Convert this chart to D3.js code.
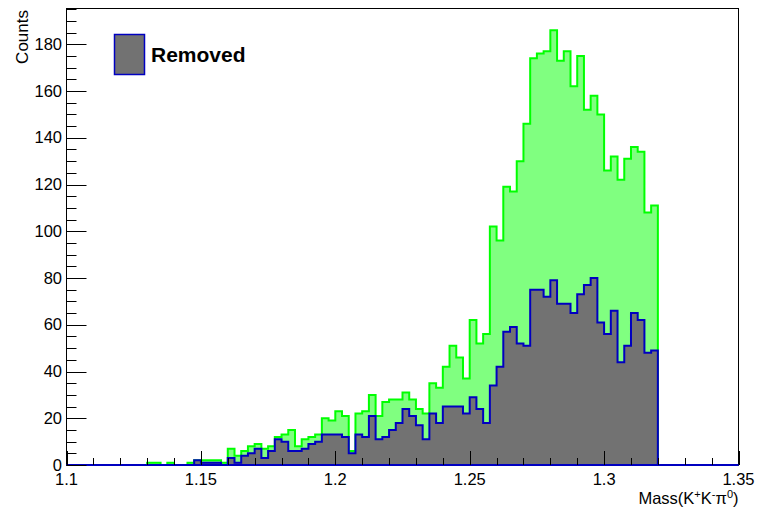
<!DOCTYPE html>
<html>
<head>
<meta charset="utf-8">
<script src="https://cdn.jsdelivr.net/npm/d3@7"></script>
<style>
  body { margin: 0; background: #fff; }
  svg { display: block; }
  text { font-family: "Liberation Sans", Arial, sans-serif; fill: #000; }
</style>
</head>
<body>
<svg id="chart" width="759" height="509"></svg>
<script>
// histogram definition: 100 bins from 1.1 to 1.35
const nBins = 100, xMin = 1.1, xMax = 1.35;

// all candidates (green)
const totalCounts = [
  0, 0, 0, 0, 0, 0, 0, 0, 0, 0,
  0, 0, 1, 1, 0, 1, 0, 0, 1, 2,
  2, 2, 2, 1, 7, 4, 6, 8, 9, 7,
  8, 12, 13, 15, 8, 11, 12, 13, 20, 19,
  23, 21, 6, 22, 23, 30, 21, 27, 28, 28,
  31, 28, 24, 22, 35, 33, 42, 51, 46, 37,
  62, 52, 56, 102, 96, 119, 117, 130, 146, 174,
  176, 177, 186, 173, 177, 162, 175, 152, 158, 150,
  126, 132, 122, 131, 136, 134, 108, 111, 0, 0,
  0, 0, 0, 0, 0, 0, 0, 0, 0, 0
];

// removed candidates (grey)
const removedCounts = [
  0, 0, 0, 0, 0, 0, 0, 0, 0, 0,
  0, 0, 0, 0, 0, 0, 0, 0, 0, 2,
  1, 1, 1, 0, 3, 1, 4, 5, 7, 3,
  6, 11, 10, 6, 6, 7, 9, 10, 13, 13,
  13, 12, 5, 13, 12, 21, 11, 12, 15, 18,
  24, 21, 17, 11, 22, 18, 25, 25, 25, 22,
  29, 24, 18, 34, 42, 57, 59, 52, 51, 75,
  75, 72, 79, 69, 69, 65, 73, 77, 80, 61,
  56, 66, 44, 51, 65, 62, 48, 49, 0, 0,
  0, 0, 0, 0, 0, 0, 0, 0, 0, 0
];

const xTickLabels = [1.1, 1.15, 1.2, 1.25, 1.3, 1.35];
const yTickLabels = [0, 20, 40, 60, 80, 100, 120, 140, 160, 180];
const legendLabel = "Removed";

const svg = d3.select("#chart");
const frame = { left: 66.5, right: 738.5, top: 8.5, bottom: 465 };

const x = d3.scaleLinear().domain([xMin, xMax]).range([frame.left, frame.right]);
const y = d3.scaleLinear().domain([0, 195.3]).range([frame.bottom, frame.top]);

const greenFill = "#80ff80", greenLine = "#00ff00";
const greyFill = "#727272", blueLine = "#0000c0";

const binWidth = (xMax - xMin) / nBins;
function steps(counts) {
  const pts = counts.map((v, i) => [xMin + i * binWidth, v]);
  pts.push([xMax, counts[counts.length - 1]]);
  return pts;
}

const area = d3.area().curve(d3.curveStepAfter)
  .x(d => x(d[0])).y0(y(0)).y1(d => y(d[1]));
const line = d3.line().curve(d3.curveStepAfter)
  .x(d => x(d[0])).y(d => y(d[1]));

function drawHist(counts, fill, stroke) {
  const pts = steps(counts);
  svg.append("path").attr("d", area(pts)).attr("fill", fill);
  svg.append("path").attr("d", line(pts))
    .attr("fill", "none").attr("stroke", stroke).attr("stroke-width", 2);
}
drawHist(totalCounts, greenFill, greenLine);
drawHist(removedCounts, greyFill, blueLine);

// frame
svg.append("rect")
  .attr("x", frame.left).attr("y", frame.top)
  .attr("width", frame.right - frame.left).attr("height", frame.bottom - frame.top)
  .attr("fill", "none").attr("stroke", "#000").attr("stroke-width", 1);
// baseline of removed histogram drawn over the frame bottom
svg.append("line")
  .attr("x1", frame.left).attr("x2", frame.right)
  .attr("y1", y(0)).attr("y2", y(0))
  .attr("stroke", blueLine).attr("stroke-width", 2);

// y axis ticks
const yMinor = d3.range(0, 195.3, 5);
svg.append("g").selectAll("line").data(yMinor).join("line")
  .attr("x1", frame.left).attr("x2", d => frame.left + (d % 20 === 0 ? 20 : 10))
  .attr("y1", d => Math.round(y(d)) + 0.5).attr("y2", d => Math.round(y(d)) + 0.5)
  .attr("stroke", "#000").attr("stroke-width", 1);
svg.append("g").selectAll("text").data(yTickLabels).join("text")
  .attr("x", 62).attr("y", d => y(d) + 5.5)
  .attr("text-anchor", "end").attr("font-size", 16.5)
  .text(d => d);

// x axis ticks
const xMinor = d3.range(0, 26).map(i => xMin + i * 0.01);
svg.append("g").selectAll("line").data(xMinor).join("line")
  .attr("x1", d => Math.round(x(d)) + 0.5).attr("x2", d => Math.round(x(d)) + 0.5)
  .attr("y1", frame.bottom).attr("y2", (d, i) => frame.bottom - (i % 5 === 0 ? 14 : 7))
  .attr("stroke", "#000").attr("stroke-width", 1);
svg.append("g").selectAll("text").data(xTickLabels).join("text")
  .attr("x", d => x(d)).attr("y", 485)
  .attr("text-anchor", "middle").attr("font-size", 16.5)
  .text(d => d);

// axis titles
svg.append("text")
  .attr("transform", "translate(28,10) rotate(-90)")
  .attr("text-anchor", "end").attr("font-size", 17)
  .text("Counts");

const xt = svg.append("text")
  .attr("x", frame.right).attr("y", 504)
  .attr("text-anchor", "end").attr("font-size", 16.5);
xt.append("tspan").text("Mass(K");
xt.append("tspan").attr("dy", -6).attr("font-size", 11).text("+");
xt.append("tspan").attr("dy", 6).text("K");
xt.append("tspan").attr("dy", -6).attr("font-size", 11).text("-");
xt.append("tspan").attr("dy", 6).text("\u03c0");
xt.append("tspan").attr("dy", -6).attr("font-size", 11).text("0");
xt.append("tspan").attr("dy", 6).text(")");

// legend
svg.append("rect")
  .attr("x", 114.5).attr("y", 34.5).attr("width", 30).attr("height", 40)
  .attr("fill", greyFill).attr("stroke", blueLine).attr("stroke-width", 1.5);
svg.append("text")
  .attr("x", 151).attr("y", 62)
  .attr("font-size", 21).attr("font-weight", "bold")
  .text(legendLabel);
</script>
</body>
</html>
